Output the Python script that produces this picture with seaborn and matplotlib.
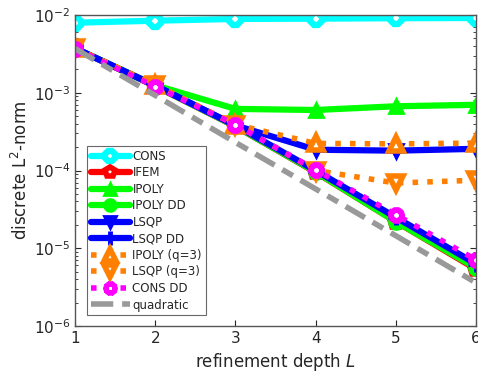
import matplotlib
matplotlib.use("Agg")
import matplotlib.pyplot as plt
import seaborn as sns
import numpy as np

sns.set_style("ticks")
plt.rcParams['font.family'] = ['DejaVu Sans']

depth = [1, 2, 3, 4, 5, 6]
cons = [7.96e-3, 8.45e-3, 8.9e-3, 8.97e-3, 9.1e-3, 9.15e-3]
ifem = [3.73e-3, 1.22e-3, 3.7e-4, 9.5e-5, 2.2e-5, 5.4e-6]
ipoly = [3.73e-3, 1.25e-3, 6.2e-4, 6.0e-4, 6.7e-4, 7.0e-4]
ipoly_dd = [3.73e-3, 1.22e-3, 3.7e-4, 9.6e-5, 2.2e-5, 5.6e-6]
lsqp = [3.73e-3, 1.23e-3, 3.8e-4, 1.85e-4, 1.8e-4, 1.9e-4]
lsqp_dd = [3.73e-3, 1.24e-3, 3.8e-4, 1.0e-4, 2.5e-5, 6.3e-6]
ipoly_q3 = [3.75e-3, 1.26e-3, 3.9e-4, 2.23e-4, 2.2e-4, 2.25e-4]
lsqp_q3 = [3.75e-3, 1.26e-3, 3.9e-4, 1.0e-4, 6.9e-5, 7.5e-5]
cons_dd = [3.7e-3, 1.2e-3, 3.9e-4, 1.02e-4, 2.7e-5, 7.1e-6]
quadratic = [3.7e-3, 9.25e-4, 2.3e-4, 5.8e-5, 1.45e-5, 3.6e-6]

labels = ["CONS", "IFEM", "IPOLY", "IPOLY DD", "LSQP", "LSQP DD",
          "IPOLY (q=3)", "LSQP (q=3)", "CONS DD", "quadratic"]
xticks = [1, 2, 3, 4, 5, 6]
yticks = [1e-6, 1e-5, 1e-4, 1e-3, 1e-2]

fig = plt.figure(figsize=(4.78, 3.77), dpi=100)
ax = fig.add_axes([75/478, 1-326/377, 401/478, 311/377])

cyan = "#00ffff"
red = "#ff0000"
green = "#00ff00"
blue = "#0000ff"
orange = "#ff8000"
mag = "#ff00ff"
gray = "#999999"

def mk(c, m, ms, face, mew, ls, lw):
    return dict(color=c, marker=m, markersize=ms, markerfacecolor=face,
                markeredgecolor=c, markeredgewidth=mew, linestyle=ls, lw=lw)

styles = [
    (cons, mk(cyan, "8", 9, "white", 4.5, "-", 4.5)),
    (ifem, mk(red, "p", 9, "white", 4, "-", 4.5)),
    (ipoly, mk(green, "^", 10, green, 2, "-", 4.5)),
    (ipoly_dd, mk(green, "o", 10, green, 2, "-", 4.5)),
    (lsqp, mk(blue, "v", 10, blue, 2, "-", 4.5)),
    (lsqp_dd, mk(blue, "+", 12, blue, 3.5, "-", 4.5)),
    (ipoly_q3, mk(orange, "^", 10, "white", 4, ":", 4)),
    (lsqp_q3, mk(orange, "v", 10, "white", 4, ":", 4)),
    (cons_dd, mk(mag, (10, 1, 0), 11, "white", 3.5, ":", 4)),
    (quadratic, dict(color=gray, linestyle=(0, (4, 1.6, 2.2, 1.6)), lw=4)),
]

for (vals, kw), lab in zip(styles, labels):
    sns.lineplot(x=depth, y=vals, ax=ax, label=lab, **kw)

ax.set_yscale("log")
ax.set_xlim(1, 6)
ax.set_ylim(1e-6, 1e-2)
ax.set_xticks(xticks)
ax.set_xticklabels([str(t) for t in xticks])
ax.set_yticks(yticks)
ax.tick_params(which="both", direction="in", top=True, right=True, labelsize=11)
ax.tick_params(which="major", length=4)
ax.tick_params(which="minor", length=2)
for s in ax.spines.values():
    s.set_color("#555555")
    s.set_linewidth(1)
ax.set_xlabel("refinement depth $L$", fontsize=12)
ax.set_ylabel("discrete L$^2$-norm", fontsize=12, labelpad=2)

leg = ax.legend(loc="lower left", bbox_to_anchor=(0.03, 0.035), fontsize=8.5,
                frameon=True, fancybox=False, edgecolor="#444444",
                handlelength=3.3, labelspacing=0.3, borderpad=0.3,
                handletextpad=0.25, borderaxespad=0, markerscale=0.85)
leg.get_frame().set_linewidth(0.8)

fig.savefig("out.png", dpi=100)
